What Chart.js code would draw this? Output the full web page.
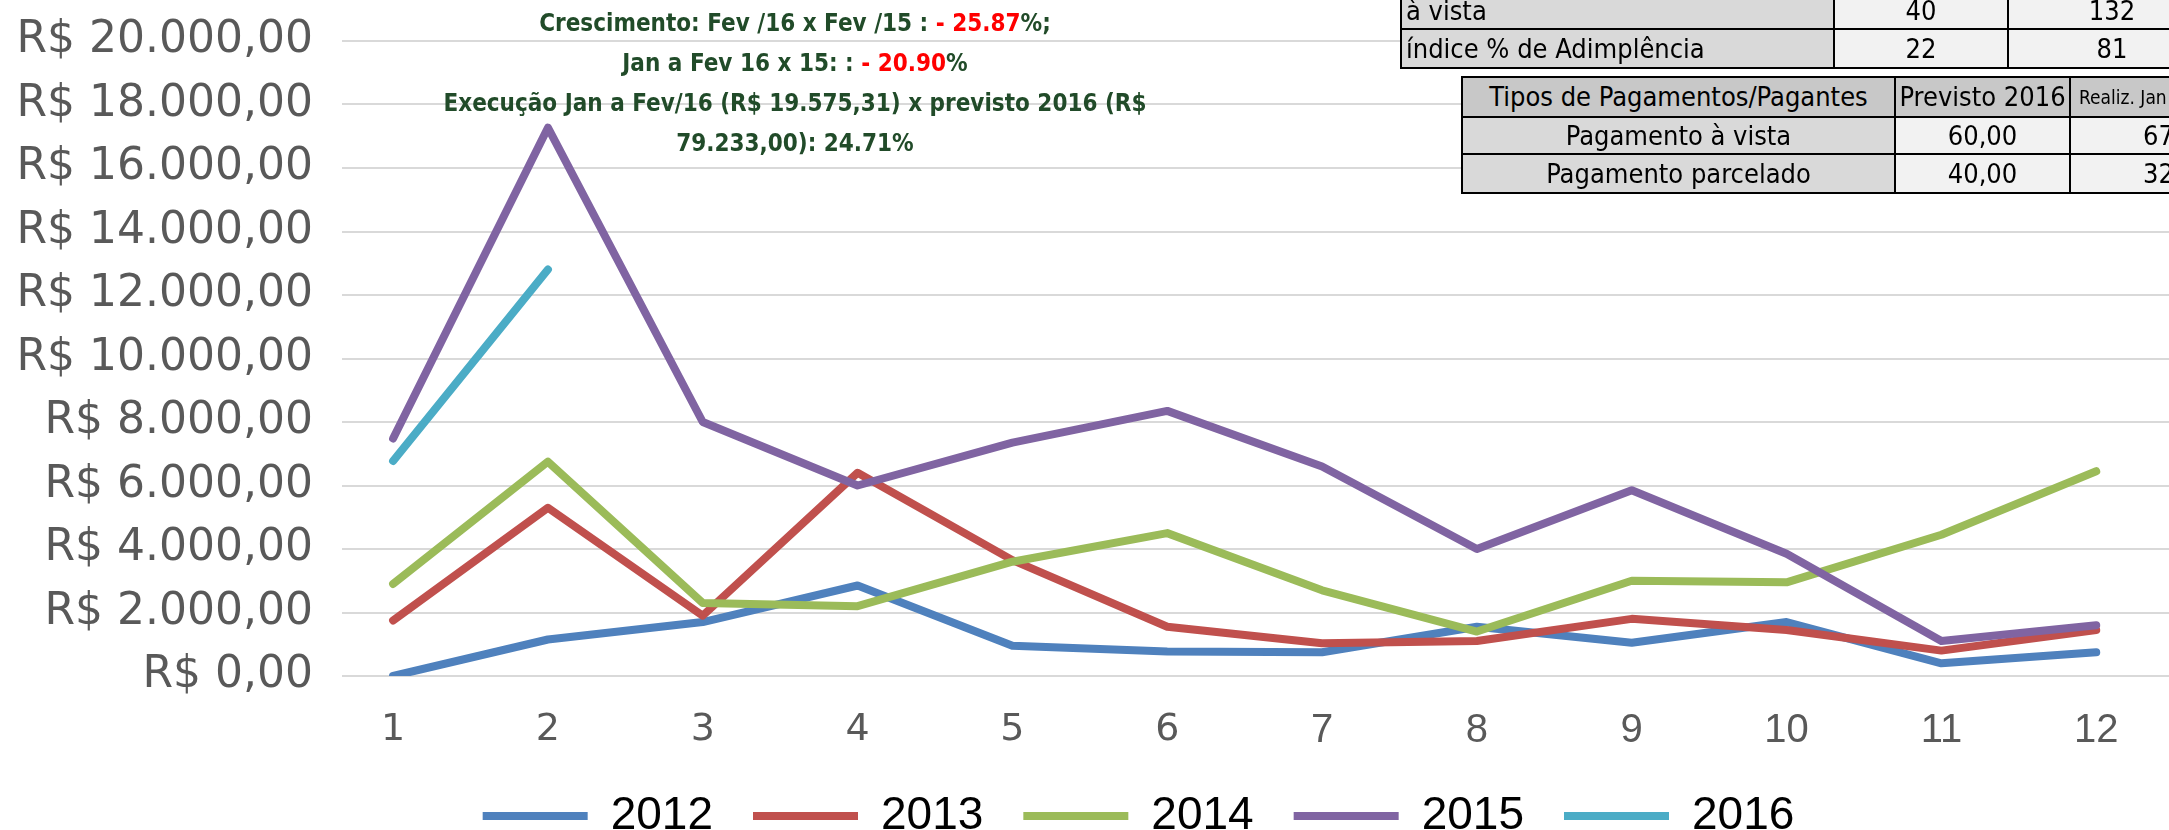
<!DOCTYPE html>
<html>
<head>
<meta charset="utf-8">
<script src="https://cdn.jsdelivr.net/npm/chart.js@4.4.1/dist/chart.umd.min.js"></script>
<style>
  html, body { margin: 0; padding: 0; background: #fff; }
  #wrap { position: relative; width: 2169px; height: 830px; overflow: hidden; }
  #grafico { position: absolute; left: 0; top: 0; }
  .nota {
    position: absolute; left: 395px; top: 3px; width: 800px;
    text-align: center; font-family: "Liberation Sans Narrow", "DejaVu Sans Condensed", sans-serif;
    font-weight: bold; font-size: 24px; line-height: 40px; color: #214b29;
  }
  .nota .neg { color: #ff0000; }
  table.tab {
    position: absolute; border-collapse: collapse; table-layout: fixed;
    font-family: "Liberation Sans Narrow", "DejaVu Sans Condensed", sans-serif;
    font-size: 27px; color: #000;
  }
  table.tab td { border: 2px solid #000; padding: 0 4px; white-space: nowrap; overflow: hidden; line-height: 30px; }
  .cinza { background: #d9d9d9; }
  .escuro { background: #c8c8c8; }
  .claro { background: #f2f2f2; }
  .c { text-align: center; }
</style>
</head>
<body>
<div id="wrap">
  <canvas id="grafico" width="2169" height="830"></canvas>

  <div class="nota">
    <div>Crescimento: Fev /16 x Fev /15 : <span class="neg">- 25.87</span>%;</div>
    <div>Jan a Fev 16 x 15: : <span class="neg">- 20.90</span>%</div>
    <div>Execução Jan a Fev/16 (R$ 19.575,31) x previsto 2016 (R$</div>
    <div>79.233,00): 24.71%</div>
  </div>

  <table class="tab" style="left:1400px; top:-8px; width:815px;">
    <colgroup><col style="width:433px"><col style="width:174px"><col style="width:208px"></colgroup>
    <tr style="height:36px"><td class="cinza">à vista</td><td class="claro c">40</td><td class="claro c">132</td></tr>
    <tr style="height:39px"><td class="cinza">índice % de Adimplência</td><td class="claro c">22</td><td class="claro c">81</td></tr>
  </table>

  <table class="tab" style="left:1461px; top:76px; width:848px;">
    <colgroup><col style="width:433px"><col style="width:175px"><col style="width:240px"></colgroup>
    <tr style="height:40px"><td class="escuro c">Tipos de Pagamentos/Pagantes</td><td class="escuro c" style="padding:0">Previsto 2016</td><td class="escuro" style="font-size:19px; padding-left:8px">Realiz. Jan a Fev/16</td></tr>
    <tr style="height:37px"><td class="cinza c">Pagamento à vista</td><td class="claro c">60,00</td><td class="claro" style="padding-left:72px">67,</td></tr>
    <tr style="height:39px"><td class="cinza c">Pagamento parcelado</td><td class="claro c">40,00</td><td class="claro" style="padding-left:72px">32,</td></tr>
  </table>
</div>

<script>
  // meses (eixo x)
  const meses = ['1', '2', '3', '4', '5', '6', '7', '8', '9', '10', '11', '12'];

  // arrecadação mensal por ano (R$)
  const ano2012 = [0, 1150, 1700, 2850, 950, 770, 750, 1550, 1050, 1700, 400, 750];
  const ano2013 = [1750, 5300, 1900, 6400, 3650, 1550, 1030, 1100, 1800, 1450, 800, 1450];
  const ano2014 = [2900, 6750, 2300, 2200, 3600, 4500, 2700, 1400, 3000, 2950, 4450, 6450];
  const ano2015 = [7480, 17270, 8000, 6000, 7350, 8350, 6600, 4000, 5850, 3850, 1100, 1600];
  const ano2016 = [6775, 12800];

  const anos = ['2012', '2013', '2014', '2015', '2016'];
  const valores = [ano2012, ano2013, ano2014, ano2015, ano2016];
  const cores = ['#4f81bd', '#c0504d', '#9bbb59', '#8064a2', '#4bacc6'];

  // eixo y
  const yMin = 0;
  const yMax = 20000;
  const yPasso = 2000;

  function reais(v) {
    const s = Math.round(v).toString().replace(/\B(?=(\d{3})+(?!\d))/g, '.');
    return 'R$ ' + s + ',00';
  }

  // a legenda fica um pouco à direita do centro no original
  const deslocaLegenda = {
    id: 'deslocaLegenda',
    beforeDraw(chart) {
      if (chart.legend) chart.legend.left = 108;
    }
  };

  const ctx = document.getElementById('grafico').getContext('2d');

  new Chart(ctx, {
    type: 'line',
    data: {
      labels: meses,
      datasets: anos.map((ano, i) => ({
        label: ano,
        data: valores[i],
        borderColor: cores[i],
        backgroundColor: cores[i],
        borderWidth: 8,
        borderCapStyle: 'round',
        borderJoinStyle: 'round',
        pointRadius: 0,
        tension: 0,
        fill: false,
        order: anos.length - i   // séries mais novas por cima, como no Excel
      }))
    },
    plugins: [deslocaLegenda],
    options: {
      responsive: false,
      animation: false,
      layout: {
        padding: { left: 0, right: 0, top: 41, bottom: -19 }
      },
      plugins: {
        tooltip: { enabled: false },
        legend: {
          position: 'bottom',
          labels: {
            boxWidth: 105,
            boxHeight: 8,
            useBorderRadius: true,
            borderRadius: 4,
            padding: 40,
            color: '#595959',
            font: { family: 'Liberation Sans', size: 46 },
            generateLabels: chart => chart.data.datasets.map((ds, i) => ({
              text: ds.label,
              fillStyle: ds.borderColor,
              strokeStyle: ds.borderColor,
              lineWidth: 0,
              hidden: false,
              datasetIndex: i
            }))
          }
        }
      },
      scales: {
        x: {
          type: 'linear',
          min: 0.67,
          max: 12.47,
          grid: { display: false },
          border: { display: false },
          ticks: {
            stepSize: 1,
            includeBounds: false,
            padding: 23,
            color: '#595959',
            maxRotation: 0,
            callback: v => meses[v - 1] || '',
            font: c => (c.tick && c.tick.value <= 6)
              ? { family: 'DejaVu Sans', size: 38 }
              : { family: 'Liberation Sans', size: 40 }
          },
          afterFit: s => { s.height = 77; }
        },
        y: {
          min: yMin,
          max: yMax,
          grid: { color: '#d9d9d9', lineWidth: 2, drawTicks: false },
          border: { display: false },
          ticks: {
            stepSize: yPasso,
            padding: 29,
            color: '#595959',
            font: { family: 'DejaVu Sans', size: 44 },
            callback: v => reais(v)
          },
          afterFit: s => {
            s.width = 342;
            s.paddingTop = 0;
            s.paddingBottom = 0;
          }
        }
      }
    }
  });
</script>
</body>
</html>
